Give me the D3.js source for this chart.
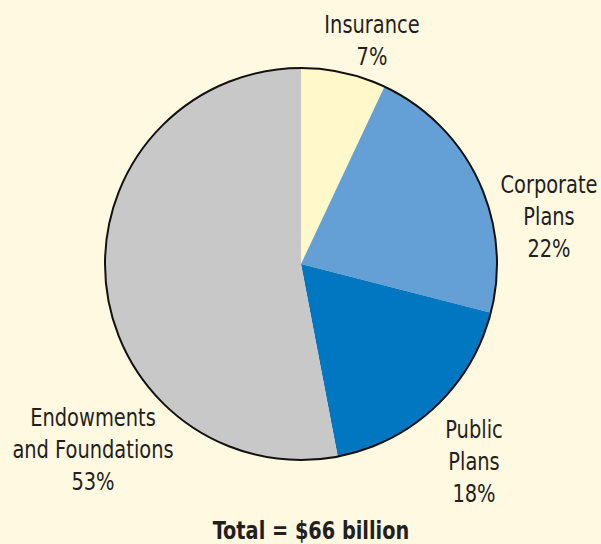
<!DOCTYPE html>
<html>
<head>
<meta charset="utf-8">
<script src="https://cdn.jsdelivr.net/npm/d3@7"></script>
<style>
  html, body { margin: 0; padding: 0; background: #FFF9E1; }
  svg { display: block; }
  text { font-family: "DejaVu Sans Condensed", "Liberation Sans Narrow", "Roboto", sans-serif; fill: #231F20; }
</style>
</head>
<body>
<svg id="chart" width="601" height="544"></svg>
<script>
// Asset allocation by investor type
const categories = ["Insurance", "Corporate Plans", "Public Plans", "Endowments and Foundations"];
const shares = [7, 22, 18, 53];
const labelLines = [["Insurance", "7%"], ["Corporate", "Plans", "22%"], ["Public", "Plans", "18%"], ["Endowments", "and Foundations", "53%"]];
const colors = ["#FFF8CB", "#64A0D6", "#0077C0", "#C8C8C8"];
const totalLabel = "Total = $66 billion";

const width = 601, height = 544;
const cx = 301, cy = 264, radius = 196;

const svg = d3.select("#chart");
svg.append("rect").attr("width", width).attr("height", height).attr("fill", "#FFF9E1");

const pie = d3.pie().sort(null).value(d => d.value);
const arcs = pie(categories.map((c, i) => ({ name: c, value: shares[i] })));
const arc = d3.arc().innerRadius(0).outerRadius(radius);

const g = svg.append("g").attr("transform", `translate(${cx},${cy})`);
g.selectAll("path.slice")
  .data(arcs)
  .join("path")
  .attr("class", "slice")
  .attr("d", arc)
  .attr("fill", (d, i) => colors[i]);

g.append("circle").attr("r", radius).attr("fill", "none").attr("stroke", "#111").attr("stroke-width", 2);

// Label anchors placed outside each slice; text is narrowed horizontally
const labelPos = [
  { x: 372, y: 33 },
  { x: 549, y: 193 },
  { x: 474, y: 438 },
  { x: 93, y: 426 }
];
const lineH = 32;
const squeeze = 0.9;

labelLines.forEach((lines, i) => {
  const t = svg.append("g")
    .attr("transform", `translate(${labelPos[i].x},${labelPos[i].y}) scale(${squeeze},1)`)
    .append("text")
    .attr("text-anchor", "middle")
    .attr("font-size", 24);
  lines.forEach((ln, j) => {
    t.append("tspan").attr("x", 0).attr("y", j * lineH).text(ln);
  });
});

svg.append("g")
  .attr("transform", `translate(311,539) scale(0.895,1)`)
  .append("text")
  .attr("text-anchor", "middle")
  .attr("font-size", 24)
  .attr("font-weight", "bold")
  .text(totalLabel);
</script>
</body>
</html>
